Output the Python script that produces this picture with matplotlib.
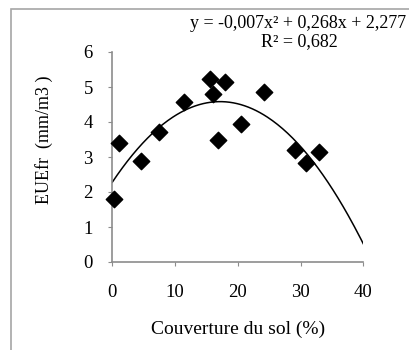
import matplotlib
matplotlib.use("Agg")
import matplotlib.pyplot as plt
import numpy as np
from matplotlib.patches import Rectangle

plt.rcParams['font.family'] = ['Liberation Serif', 'DejaVu Serif']

# ground cover (%) and EUEfr (mm/m3)
couverture = [0.3, 1.1, 4.5, 7.5, 11.4, 15.5, 16.0, 16.8, 17.9, 20.5, 24.1, 29.1, 30.9, 32.9]
euefr = [1.80, 3.41, 2.88, 3.71, 4.56, 5.23, 4.79, 3.50, 5.13, 3.94, 4.86, 3.20, 2.83, 3.15]

# trend line coefficients (a x^2 + b x + c) as drawn
trend_coef = [-0.0078, 0.268, 2.28]
eq_text = "y = -0,007x\u00b2 + 0,268x + 2,277"
r2_text = "R\u00b2 = 0,682"

fig = plt.figure(figsize=(4.09, 3.5), dpi=100)
ax = fig.add_axes([112.3 / 409, 1 - 262 / 350, 251 / 409, 210 / 350])

# outer chart border
fig.patches.append(Rectangle((11 / 409, -0.1), 1.2, 1 - 9 / 350 + 0.1,
                             transform=fig.transFigure, fill=False,
                             edgecolor='#a6a6a6', linewidth=1.2))

ax.scatter(couverture, euefr, marker='D', s=70, color='black', zorder=3,
           clip_on=False)

xs = np.linspace(0, 40, 200)
ax.plot(xs, np.polyval(trend_coef, xs), color='black', linewidth=1.1)

ax.set_xlim(0, 40)
ax.set_ylim(0, 6)
ax.set_xticks([0, 10, 20, 30, 40])
ax.set_yticks(range(7))
for side in ['top', 'right']:
    ax.spines[side].set_visible(False)
for side in ['left', 'bottom']:
    ax.spines[side].set_color('#8c8c8c')
    ax.spines[side].set_linewidth(1.2)
ax.tick_params(axis='x', direction='out', length=3, color='#8c8c8c',
               labelsize=13.5, pad=13)
ax.tick_params(axis='y', direction='out', length=3, color='#8c8c8c',
               labelsize=13.5, pad=11)

ax.set_xlabel("Couverture du sol (%)", fontsize=14)
ax.xaxis.set_label_coords(0.5, -0.28)
ax.set_ylabel("EUEfr  (mm/m3 )", fontsize=13)
ax.yaxis.set_label_coords(-0.236, 0.58)

fig.text(190 / 409, 1 - 24 / 350, eq_text, ha='left', va='center', fontsize=13)
fig.text(299 / 409, 1 - 42 / 350, r2_text, ha='center', va='center', fontsize=13)

fig.savefig("out.png", dpi=100)
